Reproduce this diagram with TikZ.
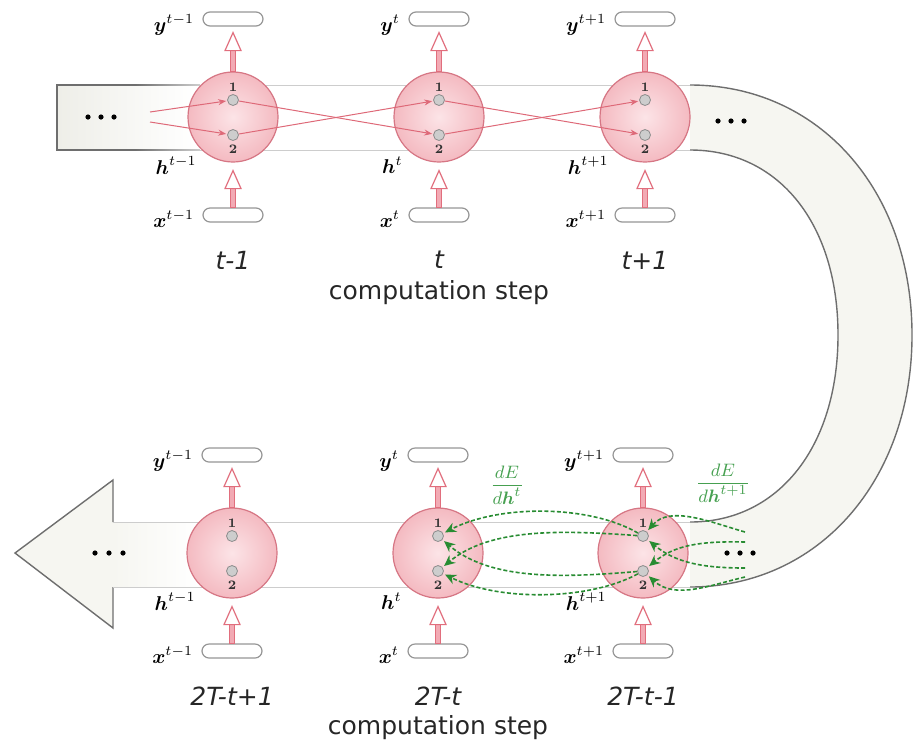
\documentclass[tikz,border=0pt]{standalone}
\usepackage{fontspec}
\setsansfont{DejaVu Sans}
\usepackage{amsmath}
\usetikzlibrary{arrows.meta,calc}
\definecolor{circout}{RGB}{244,186,193}
\definecolor{circin}{RGB}{252,228,231}
\definecolor{circdraw}{RGB}{214,118,132}
\definecolor{hiddraw}{RGB}{140,140,140}
\definecolor{hidfill}{RGB}{205,205,205}
\definecolor{boxdraw}{RGB}{150,150,150}
\definecolor{numcol}{RGB}{50,50,50}
\definecolor{redline}{RGB}{222,105,120}
\definecolor{gline}{RGB}{40,140,50}
\definecolor{glabc}{RGB}{70,160,80}
\definecolor{bandD}{RGB}{110,110,110}
\definecolor{bandF}{RGB}{205,205,205}
\definecolor{bandfill}{RGB}{246,246,241}
\definecolor{bandL}{RGB}{238,238,232}
\definecolor{holc}{RGB}{225,110,125}
\definecolor{holfill}{RGB}{242,170,180}
\newcommand\holarr[2]{%
  \path (#1) coordinate (hT) (#2) coordinate (hB);
  \filldraw[holshaft] ($(hT)+(-2.5,18)$) rectangle ($(hB)+(2.5,0)$);
  \filldraw[holhead] (hT) -- ($(hT)+(8,18)$) -- ($(hT)+(-8,18)$) -- cycle;
}
\begin{document}
\begin{tikzpicture}[x=0.5pt,y=-0.5pt,
  unit/.style={circle,minimum size=45pt,inner sep=0pt,draw=circdraw,line width=0.6pt,inner color=circin,outer color=circout},
  hid/.style={circle,minimum size=5.5pt,inner sep=0pt,draw=hiddraw,fill=hidfill,line width=0.4pt},
  iobox/.style={rectangle,rounded corners=3.5pt,minimum width=30pt,minimum height=7pt,inner sep=0pt,draw=boxdraw,fill=white,line width=0.6pt},
  vlab/.style={anchor=base east,inner sep=0pt,font=\fontsize{10}{12}\selectfont},
  hlab/.style={anchor=north east,inner sep=0pt,font=\fontsize{10}{12}\selectfont},
  numl/.style={inner sep=0pt,font=\fontsize{6.5}{7}\selectfont\bfseries,text=numcol},
  stepl/.style={font=\sffamily\itshape\fontsize{12.5}{15}\selectfont,text=black!85},
  compl/.style={font=\sffamily\fontsize{12.5}{15}\selectfont,text=black!85},
  redln/.style={draw=redline,line width=0.5pt,-{Stealth[length=4pt,width=3pt]},shorten >=0.5pt},
  grn/.style={draw=gline,line width=0.8pt,dash pattern=on 2pt off 1.1pt,-{Stealth[length=5.5pt,width=5pt]},shorten >=1pt},
  glab/.style={inner sep=0pt,text=glabc,font=\fontsize{9.5}{11}\selectfont},
  bandd/.style={draw=bandD,line width=0.7pt},
  bandf/.style={draw=bandF,line width=0.5pt},
  holhead/.style={draw=holc,fill=white,line width=0.6pt,line join=miter},
  holshaft/.style={draw=holc,fill=holfill,line width=0.5pt},
  dotc/.style={fill=black}
]
\useasboundingbox (0,0) rectangle (913,745);

% ---- U-shaped band ----
\fill[bandfill] (690,85) .. controls (819,85) and (912,190) .. (912,335)
   .. controls (912,480) and (819,587) .. (690,587) -- (690,522)
   .. controls (779,522) and (838,446) .. (838,335)
   .. controls (838,224) and (779,150) .. (690,150) -- cycle;
\draw[bandd] (690,85) .. controls (819,85) and (912,190) .. (912,335)
   .. controls (912,480) and (819,587) .. (690,587);
\draw[bandd] (690,522) .. controls (779,522) and (838,446) .. (838,335)
   .. controls (838,224) and (779,150) .. (690,150);

% top-left band start
\shade[left color=bandL,right color=white] (57,85) rectangle (195,150);
\draw[bandd] (135,85) -- (57,85) -- (57,150) -- (135,150);
\shade[left color=bandD,right color=bandF] (135,84.3) rectangle (200,85.7);
\shade[left color=bandD,right color=bandF] (135,149.3) rectangle (200,150.7);
\draw[bandf] (200,85) -- (690,85);
\draw[bandf] (200,150) -- (690,150);

% bottom-left arrow head
\fill[bandfill] (15,553) -- (113,480) -- (113,628) -- cycle;
\shade[left color=bandfill,right color=white] (113,522) rectangle (200,587);
\draw[bandd] (113,522) -- (113,480) -- (15,553) -- (113,628) -- (113,587);
\draw[bandf] (113,522) -- (690,522);
\draw[bandf] (113,587) -- (690,587);

% dots
\foreach \dx/\dy in {88/117,101/117,114/117,718/121,731/121,744/121,95/553,109/553,123/553,727/553,740/553,753/553}
  \fill[dotc] (\dx,\dy) circle (2.6);

% ---- top row ----
\foreach \i/\cx/\s/\st in {1/233/{t-1}/{t-1},2/439/{t}/{t},3/645/{t+1}/{t+1}}{
  \node[unit] (u\i) at (\cx,117) {};
  \node[hid] (ua\i) at (\cx,100) {};
  \node[hid] (ub\i) at (\cx,135) {};
  \node[numl] (una\i) at (\cx,87) {1};
  \node[numl] (unb\i) at (\cx,149) {2};
  \node[iobox] (yb\i) at (\cx,19) {};
  \node[iobox] (xb\i) at (\cx,215) {};
  \node[vlab] (yl\i) at ($(yb\i.west)+(-8,12)$) {$\boldsymbol{y}^{\s}$};
  \node[vlab] (xl\i) at ($(xb\i.west)+(-8,12)$) {$\boldsymbol{x}^{\s}$};
  \node[hlab] (hl\i) at ($(u\i)+(-36,39)$) {$\boldsymbol{h}^{\s}$};
  \node[stepl] (st\i) at (\cx,260) {\st};
  \holarr{$(yb\i.south)+(0,6)$}{u\i.north}
  \holarr{$(u\i.south)+(0,8)$}{xb\i.north}
}
\node[compl] (cs1) at (439,293) {computation step};

\coordinate (inA) at (150,112);
\coordinate (inB) at (150,122);
\draw[redln] (inA) -- (ua1);
\draw[redln] (inB) -- (ub1);
\draw[redln] (ua1) -- (ub2);
\draw[redln] (ub1) -- (ua2);
\draw[redln] (ua2) -- (ub3);
\draw[redln] (ub2) -- (ua3);

% ---- bottom row ----
\foreach \i/\cx/\s/\st in {1/232/{t-1}/{2T-t+1},2/438/{t}/{2T-t},3/643/{t+1}/{2T-t-1}}{
  \node[unit] (v\i) at (\cx,553) {};
  \node[hid] (va\i) at (\cx,536) {};
  \node[hid] (vb\i) at (\cx,571) {};
  \node[numl] (vna\i) at (\cx,523) {1};
  \node[numl] (vnb\i) at (\cx,585) {2};
  \node[iobox] (zb\i) at (\cx,455) {};
  \node[iobox] (wb\i) at (\cx,651) {};
  \node[vlab] (zl\i) at ($(zb\i.west)+(-8,12)$) {$\boldsymbol{y}^{\s}$};
  \node[vlab] (wl\i) at ($(wb\i.west)+(-8,12)$) {$\boldsymbol{x}^{\s}$};
  \node[hlab] (gl\i) at ($(v\i)+(-36,39)$) {$\boldsymbol{h}^{\s}$};
  \node[stepl] (sb\i) at (\cx,696) {\st};
  \holarr{$(zb\i.south)+(0,6)$}{v\i.north}
  \holarr{$(v\i.south)+(0,8)$}{wb\i.north}
}
\node[compl] (cs2) at (438,728) {computation step};

% green gradient flow 2T-t-1 -> 2T-t
\draw[grn] (va3) .. controls (590,505) and (500,504) .. (va2);
\draw[grn] (va3) .. controls (560,530) and (490,528) .. (vb2);
\draw[grn] (vb3) .. controls (560,578) and (490,580) .. (va2);
\draw[grn] (vb3) .. controls (590,600) and (500,602) .. (vb2);

% green gradient flow from the right
\coordinate (ra) at (745,532);
\coordinate (rb) at (745,542);
\coordinate (rc) at (745,568);
\coordinate (rd) at (745,577);
\draw[grn] (ra) .. controls (710,522) and (670,505) .. (va3);
\draw[grn] (rb) .. controls (700,541) and (675,545) .. (vb3);
\draw[grn] (rc) .. controls (700,568) and (675,562) .. (va3);
\draw[grn] (rd) .. controls (710,585) and (675,600) .. (vb3);

\node[glab] (g1) at (507,485) {$\displaystyle\frac{dE}{d\boldsymbol{h}^{t}}$};
\node[glab] (g2) at (723,483) {$\displaystyle\frac{dE}{d\boldsymbol{h}^{t+1}}$};
\end{tikzpicture}
\end{document}
